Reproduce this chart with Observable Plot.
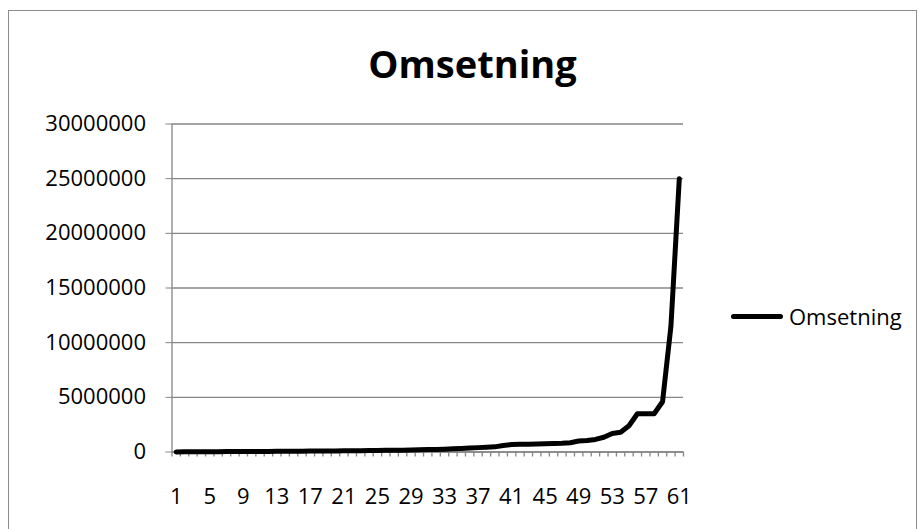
<!DOCTYPE html>
<html>
<head>
<meta charset="utf-8">
<script src="https://cdn.jsdelivr.net/npm/d3@7"></script>
<script src="https://cdn.jsdelivr.net/npm/@observablehq/plot@0.6"></script>
<style>
  html, body { margin: 0; padding: 0; background: #fff; overflow: hidden; }
  #wrap { position: relative; width: 920px; height: 529px; overflow: hidden; font-family: "Open Sans", sans-serif; }
  #border { position: absolute; left: 8px; top: 10px; width: 909px; height: 540px; border: 1.5px solid #8c8c8c; box-sizing: border-box; }
  #title { position: absolute; left: 0; width: 945px; top: 44px; text-align: center; font-size: 38px; font-weight: bold; color: #000; line-height: 1; }
  #legend { position: absolute; left: 731px; top: 301px; display: flex; align-items: center; font-size: 22px; color: #000; }
  #legend .sw { width: 52px; height: 5px; background: #000; border-radius: 3px; margin-right: 6px; }
  #chart { position: absolute; left: 0; top: 0; }
</style>
</head>
<body>
<div id="wrap">
  <div id="border"></div>
  <div id="chart"></div>
  <div id="title">Omsetning</div>
  <div id="legend"><div class="sw"></div><span id="legendText"></span></div>
</div>
<script>
const seriesName = "Omsetning";
const categories = d3.range(1, 62);
const values = [
  5000, 12000, 18000, 22000, 27000, 31000, 36000, 40000, 44000, 48000,
  52000, 55000, 60000, 64000, 70000, 75000, 82000, 88000, 95000, 100000,
  108000, 115000, 120000, 130000, 140000, 150000, 160000, 170000, 185000, 200000,
  220000, 240000, 260000, 290000, 320000, 360000, 400000, 430000, 470000, 600000,
  680000, 700000, 710000, 730000, 760000, 780000, 800000, 850000, 1000000, 1050000,
  1150000, 1350000, 1700000, 1800000, 2400000, 3500000, 3500000, 3500000, 4600000, 11500000,
  25000000
];
const xTickLabels = [1, 5, 9, 13, 17, 21, 25, 29, 33, 37, 41, 45, 49, 53, 57, 61];
const yTicks = [0, 5000000, 10000000, 15000000, 20000000, 25000000, 30000000];

const data = categories.map((c, i) => ({cat: c, value: values[i]}));
const xDomain = [categories[0] - 0.5, categories[categories.length - 1] + 0.5];
const boundaries = d3.range(xDomain[0], xDomain[1] + 0.01, 1);

document.getElementById("legendText").textContent = seriesName;

const gray = "#868686";
const chart = Plot.plot({
  width: 920,
  height: 529,
  marginLeft: 171.5,
  marginRight: 237,
  marginTop: 123.5,
  marginBottom: 77.5,
  style: { fontFamily: "Open Sans, sans-serif", background: "transparent", overflow: "visible" },
  x: { type: "linear", domain: xDomain },
  y: { domain: [yTicks[0], yTicks[yTicks.length - 1]] },
  marks: [
    Plot.gridY(yTicks, { stroke: gray, strokeOpacity: 1, strokeWidth: 1.3 }),
    Plot.ruleX([xDomain[0]], { stroke: gray, strokeWidth: 1.3 }),
    Plot.ruleY([yTicks[0]], { stroke: gray, strokeWidth: 1.3 }),
    Plot.axisY(yTicks, { tickSize: 6, tickPadding: 20, stroke: gray, strokeOpacity: 1, fontSize: 22, fill: "#000", tickFormat: d => String(d), label: null }),
    Plot.axisX(boundaries, { tickSize: 5, stroke: gray, strokeOpacity: 1, strokeWidth: 1.3, tickFormat: () => "", label: null }),
    Plot.axisX(xTickLabels, { tickSize: 0, tickPadding: 36, fontSize: 22, fill: "#000", tickFormat: d => String(d), label: null }),
    Plot.line(data, { x: "cat", y: "value", stroke: "#000", strokeWidth: 5, strokeLinejoin: "round", strokeLinecap: "round" })
  ]
});
document.getElementById("chart").appendChild(chart);
</script>
</body>
</html>
